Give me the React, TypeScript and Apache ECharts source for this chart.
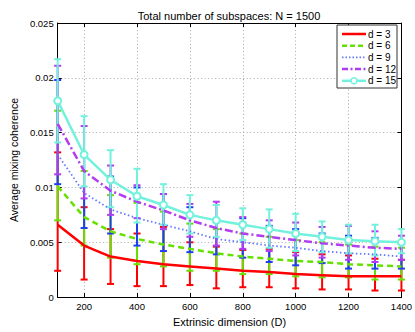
import React, { useEffect, useRef } from "react";
import * as echarts from "echarts";

const dims = [100, 200, 300, 400, 500, 600, 700, 800, 900, 1000, 1100, 1200, 1300, 1400];
const xTicks = [200, 400, 600, 800, 1000, 1200, 1400];
const seriesNames = ["d = 3", "d = 6", "d = 9", "d = 12", "d = 15"];

const mean3 = [0.0066, 0.0047, 0.0037, 0.0033, 0.0030, 0.0028, 0.0026, 0.0024, 0.0023, 0.0021, 0.0020, 0.0019, 0.0019, 0.0019];
const lo3 = [0.0024, 0.0016, 0.0012, 0.0010, 0.0010, 0.0011, 0.0008, 0.0009, 0.0009, 0.0008, 0.0007, 0.0007, 0.0006, 0.0006];
const hi3 = [0.0132, 0.0082, 0.0062, 0.0058, 0.0064, 0.0050, 0.0046, 0.0043, 0.0044, 0.0041, 0.0039, 0.0038, 0.0035, 0.0034];

const mean6 = [0.0101, 0.0073, 0.0060, 0.0053, 0.0048, 0.0044, 0.0040, 0.0037, 0.0035, 0.0033, 0.0032, 0.0030, 0.0029, 0.0028];
const lo6 = [0.0070, 0.0047, 0.0036, 0.0030, 0.0028, 0.0024, 0.0024, 0.0021, 0.0021, 0.0019, 0.0018, 0.0018, 0.0016, 0.0016];
const hi6 = [0.0170, 0.0115, 0.0093, 0.0086, 0.0078, 0.0067, 0.0062, 0.0058, 0.0055, 0.0052, 0.0050, 0.0048, 0.0046, 0.0045];

const mean9 = [0.0130, 0.0095, 0.0080, 0.0072, 0.0066, 0.0060, 0.0053, 0.0050, 0.0047, 0.0045, 0.0042, 0.0040, 0.0039, 0.0037];
const lo9 = [0.0103, 0.0063, 0.0058, 0.0047, 0.0042, 0.0041, 0.0039, 0.0036, 0.0032, 0.0029, 0.0031, 0.0026, 0.0026, 0.0026];
const hi9 = [0.0198, 0.0131, 0.0110, 0.0100, 0.0094, 0.0082, 0.0070, 0.0072, 0.0065, 0.0062, 0.0058, 0.0056, 0.0054, 0.0050];

const mean12 = [0.0158, 0.0115, 0.0097, 0.0087, 0.0079, 0.0070, 0.0063, 0.0058, 0.0055, 0.0052, 0.0049, 0.0047, 0.0045, 0.0044];
const lo12 = [0.0112, 0.0090, 0.0075, 0.0072, 0.0062, 0.0055, 0.0047, 0.0044, 0.0042, 0.0038, 0.0036, 0.0034, 0.0032, 0.0034];
const hi12 = [0.0211, 0.0156, 0.0120, 0.0102, 0.0094, 0.0085, 0.0087, 0.0073, 0.0070, 0.0068, 0.0064, 0.0065, 0.0060, 0.0056];

const mean15 = [0.0179, 0.0130, 0.0107, 0.0092, 0.0084, 0.0075, 0.0070, 0.0066, 0.0062, 0.0058, 0.0055, 0.0052, 0.0051, 0.0050];
const lo15 = [0.0141, 0.0101, 0.0082, 0.0068, 0.0066, 0.0058, 0.0055, 0.0052, 0.0045, 0.0042, 0.0041, 0.0040, 0.0038, 0.0040];
const hi15 = [0.0217, 0.0165, 0.0134, 0.0117, 0.0103, 0.0093, 0.0084, 0.0081, 0.0080, 0.0076, 0.0069, 0.0066, 0.0066, 0.0062];

const means = [mean3, mean6, mean9, mean12, mean15];
const lows = [lo3, lo6, lo9, lo12, lo15];
const highs = [hi3, hi6, hi9, hi12, hi15];

const lineColors = ["#ff0000", "#66e000", "#6478ff", "#b23cf0", "#72f2dc"];
const barColors = ["#ff0000", "#66e000", "#1f3ff0", "#b23cf0", "#72f2dc"];
const lineTypes: any[] = ["solid", [6, 4], [1.5, 2.5], [8, 3, 2, 3], "solid"];
const legendDash: any[] = [null, [5, 3], [1.5, 2], [6, 2.5, 2, 2.5], null];
const lineWidths = [2.5, 2.5, 1.8, 2.5, 2.5];

const FONT = "'Liberation Sans', Arial, Helvetica, sans-serif";

export default function App() {
  const ref = useRef<HTMLDivElement>(null);
  useEffect(() => {
    if (!ref.current) return;
    const chart = echarts.init(ref.current, null, { renderer: "svg" });
    const series: any[] = [];
    means.forEach((m, i) => {
      const color = barColors[i];
      series.push({
        type: "custom",
        name: seriesNames[i] + " err",
        xAxisIndex: 0,
        yAxisIndex: 0,
        clip: false,
        silent: true,
        data: dims.map((d, k) => [d, lows[i][k], highs[i][k]]),
        encode: { x: 0, y: [1, 2] },
        renderItem: (params: any, api: any) => {
          const x = api.value(0);
          const pLo = api.coord([x, api.value(1)]);
          const pHi = api.coord([x, api.value(2)]);
          const hw = 3.5;
          const st = { stroke: color, lineWidth: 2, fill: null };
          return {
            type: "group",
            children: [
              { type: "line", shape: { x1: pLo[0], y1: pLo[1], x2: pHi[0], y2: pHi[1] }, style: st },
              { type: "line", shape: { x1: pLo[0] - hw, y1: pLo[1], x2: pLo[0] + hw, y2: pLo[1] }, style: st },
              { type: "line", shape: { x1: pHi[0] - hw, y1: pHi[1], x2: pHi[0] + hw, y2: pHi[1] }, style: st },
            ],
          };
        },
      });
      series.push({
        type: "line",
        name: seriesNames[i],
        xAxisIndex: 0,
        yAxisIndex: 0,
        data: dims.map((d, k) => [d, m[k]]),
        symbol: i === 4 ? "emptyCircle" : "none",
        symbolSize: 7,
        showSymbol: i === 4,
        clip: false,
        itemStyle: { color: lineColors[i], borderWidth: 1.5 },
        lineStyle: { color: lineColors[i], width: lineWidths[i], type: lineTypes[i] },
      });
    });

    const legendX = 337;
    const legendY = 25;
    const rowH = 11.7;
    const legendEls: any[] = [
      {
        type: "rect",
        shape: { x: legendX, y: legendY, width: 60, height: 63 },
        style: { fill: "#fff", stroke: "#333", lineWidth: 1 },
        z: 100,
      },
    ];
    seriesNames.forEach((n, i) => {
      const y = legendY + 9 + i * rowH;
      legendEls.push({
        type: "line",
        shape: { x1: legendX + 5, y1: y, x2: legendX + 29, y2: y },
        style: { stroke: lineColors[i], lineWidth: lineWidths[i], lineDash: legendDash[i] },
        z: 101,
      });
      if (i === 4) {
        legendEls.push({
          type: "circle",
          shape: { cx: legendX + 17, cy: y, r: 3 },
          style: { fill: "#fff", stroke: lineColors[i], lineWidth: 1.5 },
          z: 102,
        });
      }
      legendEls.push({
        type: "text",
        x: legendX + 31,
        y: y,
        style: { text: n, fontSize: 10, fill: "#000", fontFamily: FONT, verticalAlign: "middle", align: "left" },
        z: 102,
      });
    });

    chart.setOption({
      animation: false,
      backgroundColor: "#ffffff",
      textStyle: { fontFamily: FONT },
      title: {
        text: "Total number of subspaces: N = 1500",
        left: 224,
        top: 5,
        textAlign: "center",
        textStyle: { fontSize: 11, fontWeight: "normal", color: "#000", fontFamily: FONT },
      },
      graphic: legendEls,
      grid: { left: 45, right: 13, top: 23, bottom: 28, containLabel: false },
      xAxis: [
        {
          type: "value",
          min: 100,
          max: 1400,
          name: "Extrinsic dimension (D)",
          nameLocation: "middle",
          nameGap: 14,
          nameTextStyle: { fontSize: 11, color: "#000", fontFamily: FONT },
          axisLine: { show: true, onZero: false, lineStyle: { color: "#000", width: 1 } },
          axisTick: { show: true, inside: true, length: 4, customValues: xTicks, lineStyle: { color: "#000" } },
          axisLabel: {
            show: true,
            customValues: xTicks,
            fontSize: 9.5,
            color: "#000",
            margin: 4,
            fontFamily: FONT,
            formatter: (v: number) => String(v),
          },
          splitLine: { show: true, lineStyle: { color: "#aaa", type: [1, 2.5], width: 1 } },
        },
        {
          type: "value",
          min: 100,
          max: 1400,
          position: "top",
          axisLine: { show: true, onZero: false, lineStyle: { color: "#000", width: 1 } },
          axisTick: { show: true, inside: true, length: 4, customValues: xTicks, lineStyle: { color: "#000" } },
          axisLabel: { show: false },
          splitLine: { show: false },
        },
      ],
      yAxis: [
        {
          type: "value",
          min: 0,
          max: 0.025,
          interval: 0.005,
          name: "Average mixing coherence",
          nameLocation: "middle",
          nameGap: 31,
          nameTextStyle: { fontSize: 10.5, color: "#000", fontFamily: FONT },
          axisLine: { show: true, onZero: false, lineStyle: { color: "#000", width: 1 } },
          axisTick: { show: true, inside: true, length: 4, lineStyle: { color: "#000" } },
          axisLabel: { fontSize: 9.5, color: "#000", margin: 4, fontFamily: FONT },
          splitLine: { show: true, lineStyle: { color: "#aaa", type: [1, 2.5], width: 1 } },
        },
        {
          type: "value",
          min: 0,
          max: 0.025,
          interval: 0.005,
          position: "right",
          axisLine: { show: true, onZero: false, lineStyle: { color: "#000", width: 1 } },
          axisTick: { show: true, inside: true, length: 4, lineStyle: { color: "#000" } },
          axisLabel: { show: false },
          splitLine: { show: false },
        },
      ],
      series,
    });
    return () => chart.dispose();
  }, []);
  return (
    <div
      ref={ref}
      style={{ position: "fixed", left: 0, top: 0, width: 415, height: 332, background: "#fff" }}
    />
  );
}
